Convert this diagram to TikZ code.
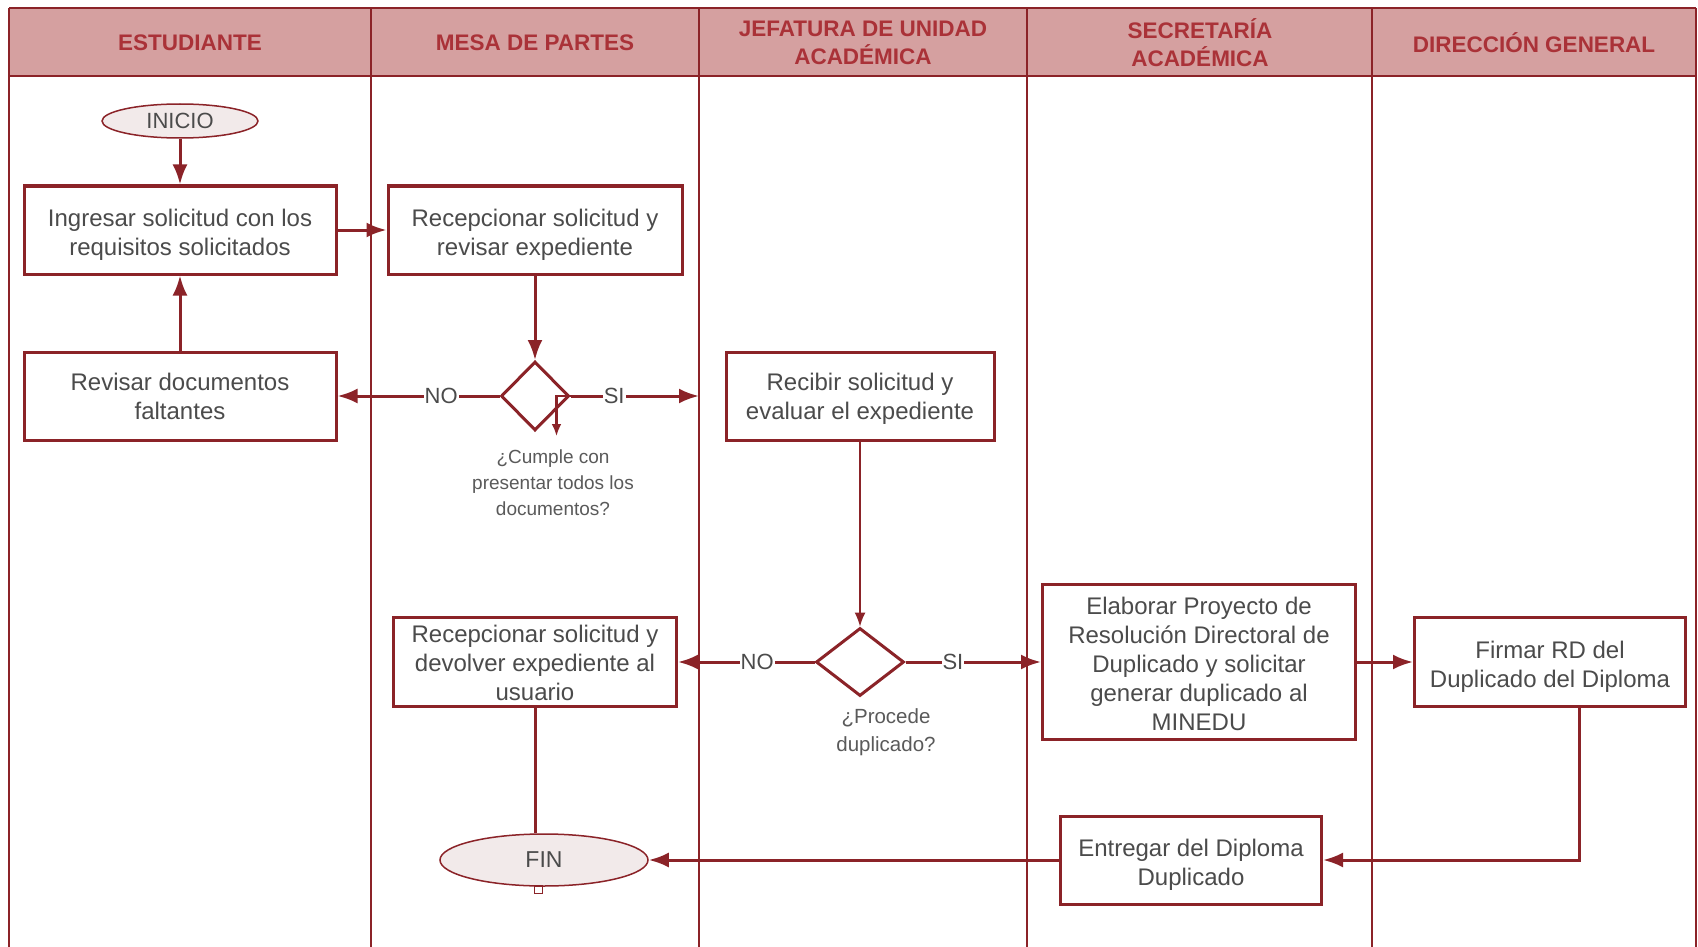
\documentclass[tikz,border=0pt]{standalone}
\usepackage{fontspec}
\setmainfont{Liberation Sans}
\usetikzlibrary{shapes.geometric,arrows.meta}
\definecolor{lanered}{RGB}{139,35,40}
\definecolor{headfill}{RGB}{213,160,160}
\definecolor{headtext}{RGB}{170,50,56}
\definecolor{boxtext}{RGB}{75,75,75}
\definecolor{captext}{RGB}{90,90,90}
\definecolor{termfill}{RGB}{242,234,234}
\newcommand{\mystrutA}{\rule{0pt}{26pt}}
\newcommand{\mystrutB}{\rule{0pt}{20pt}}
\newcommand{\mystrutC}{\rule{0pt}{21.5pt}}
\newcommand{\mystrutD}{\rule{0pt}{22pt}}
\begin{document}
\begin{tikzpicture}[x=1pt,y=-1pt,
  box/.style={draw=lanered, line width=3pt, fill=white, align=center, text=boxtext,
    font=\fontsize{24}{29}\selectfont, inner sep=0pt},
  term/.style={ellipse, draw=lanered, line width=1.5pt, fill=termfill, text=boxtext,
    font=\fontsize{22}{26}\selectfont, inner sep=0pt},
  decision/.style={diamond, draw=lanered, line width=3pt, fill=white, inner sep=0pt},
  head/.style={text=headtext, font=\bfseries\fontsize{22.5}{28}\selectfont, align=center},
  captxt/.style={text=captext, align=center},
  lbl/.style={fill=white, text=boxtext, font=\fontsize{22}{26}\selectfont, inner sep=1pt},
  conn/.style={draw=lanered, line width=3pt, -{Latex[length=20pt,width=15pt]}},
  thinconn/.style={draw=lanered, line width=1.5pt, -{Latex[length=14pt,width=11pt]}},
  plain/.style={draw=lanered, line width=3pt},
  lane/.style={draw=lanered, line width=1.5pt}
]
\useasboundingbox (0,0) rectangle (1698,947);
\fill[white] (0,0) rectangle (1698,947);
% header
\fill[headfill] (9,8) rectangle (1696,76);
\draw[lane] (9,8) -- (1696,8);
\draw[lane] (9,76) -- (1696,76);
\draw[lane] (9,8) -- (9,947);
\draw[lane] (1696,8) -- (1696,947);
\draw[lane] (371,8) -- (371,947);
\draw[lane] (699,8) -- (699,947);
\draw[lane] (1027,8) -- (1027,947);
\draw[lane] (1372,8) -- (1372,947);
\node[head] (h1) at (190,43) {ESTUDIANTE};
\node[head] (h2) at (535,43) {MESA DE PARTES};
\node[head] (h3) at (863,43) {JEFATURA DE UNIDAD\\ACADÉMICA};
\node[head] (h4) at (1200,43) {SECRETARÍA\\ACADÉMICA};
\node[head] (h5) at (1534,43) {DIRECCIÓN GENERAL};
% nodes
\node[term, minimum width=156pt, minimum height=34pt] (ini) at (180,121) {INICIO};
\node[box, minimum width=312pt, minimum height=88pt] (b1) at (180,230) {\mystrutA Ingresar solicitud con los\\requisitos solicitados};
\node[box, minimum width=294pt, minimum height=88pt] (b2) at (535,230) {\mystrutA Recepcionar solicitud y\\revisar expediente};
\node[box, minimum width=312pt, minimum height=88pt] (b3) at (180,396) {Revisar documentos\\faltantes};
\node[decision, minimum width=68pt, minimum height=69pt] (d1) at (535,396) {};
\coordinate (s1) at (699,396);
\node[captxt, font=\fontsize{19}{26}\selectfont] (c1) at (553,483) {¿Cumple con\\presentar todos los\\documentos?};
\node[box, minimum width=268pt, minimum height=88pt] (b4) at (860,396) {\mystrutD Recibir solicitud y\\evaluar el expediente};
\node[decision, minimum width=88pt, minimum height=68pt] (d2) at (860,662) {};
\node[captxt, font=\fontsize{20.5}{28}\selectfont] (c2) at (886,732) {¿Procede\\duplicado?};
\node[box, minimum width=283pt, minimum height=89pt] (b5) at (535,662) {\mystrutB Recepcionar solicitud y\\devolver expediente al\\usuario};
\node[box, minimum width=313pt, minimum height=155pt] (b6) at (1199,662) {\mystrutC Elaborar Proyecto de\\Resolución Directoral de\\Duplicado y solicitar\\generar duplicado al\\MINEDU};
\node[box, minimum width=271pt, minimum height=89pt] (b7) at (1550,662) {\mystrutA Firmar RD del\\Duplicado del Diploma};
\node[box, minimum width=261pt, minimum height=88pt] (b8) at (1191,860) {\mystrutA Entregar del Diploma\\Duplicado};
\node[term, minimum width=208pt, minimum height=52pt, font=\fontsize{23}{26}\selectfont] (fin) at (544,860) {FIN};
% connectors
\draw[conn] (ini) -- (b1);
\draw[conn] (b1) -- (b2);
\draw[conn] (b2) -- (d1);
\draw[conn] (b3) -- (b1);
\draw[conn] (d1) -- node[lbl, pos=0.36] {NO} (b3);
\draw[conn] (d1) -- node[lbl, pos=0.34] {SI} (s1);
\draw[lanered, line width=2.5pt, -{Latex[length=12pt,width=10pt]}] (d1.east) -- ++(-14,0) -- ++(0,40);
\draw[thinconn] (b4) -- (d2);
\draw[conn] (d2) -- node[lbl, pos=0.42] {NO} (b5);
\draw[conn] (d2) -- node[lbl, pos=0.35] {SI} (b6);
\draw[conn] (b6) -- (b7);
\draw[conn] ([xshift=29pt]b7.south) |- (b8.east);
\draw[conn] (b8) -- (fin);
\draw[plain] (b5.south) -- (b5.south |- fin.north);
\draw[lanered, line width=1pt] ([xshift=-10pt]fin.south) rectangle ++(8,7);
\end{tikzpicture}
\end{document}
